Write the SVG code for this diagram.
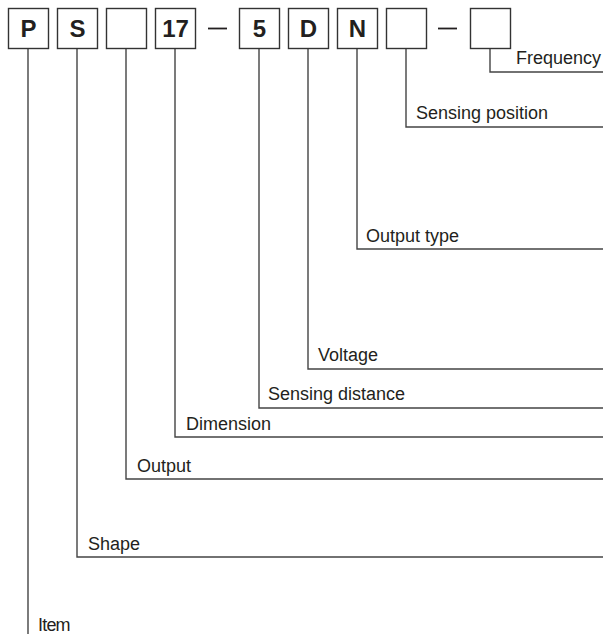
<svg xmlns="http://www.w3.org/2000/svg" width="603" height="634" viewBox="0 0 603 634">
<style>
.box{fill:#fff;stroke:#333;stroke-width:1.4}
.code{font-family:"Liberation Sans",Arial,sans-serif;font-weight:bold;font-size:24px;fill:#231f20;text-anchor:middle}
.lbl{font-family:"Liberation Sans",Arial,sans-serif;font-size:18px;fill:#231f20}
.ln{fill:none;stroke:#444;stroke-width:1.4}
</style>
<rect width="603" height="634" fill="#fff"/>
<g id="connectors">
<polyline class="ln" points="490,48.5 490,72 603,72"/>
<polyline class="ln" points="406,48.5 406,127 603,127"/>
<polyline class="ln" points="357,48.5 357,249 603,249"/>
<polyline class="ln" points="308,48.5 308,369 603,369"/>
<polyline class="ln" points="259,48.5 259,408 603,408"/>
<polyline class="ln" points="175,48.5 175,437 603,437"/>
<polyline class="ln" points="126,48.5 126,479 603,479"/>
<polyline class="ln" points="77,48.5 77,557 603,557"/>
<polyline class="ln" points="28,48.5 28,634"/>
</g>
<g id="box-P"><rect class="box" x="8.5" y="8.5" width="40" height="40"/><text class="code" x="28.5" y="37">P</text></g>
<g id="box-S"><rect class="box" x="57.5" y="8.5" width="40" height="40"/><text class="code" x="77.5" y="37">S</text></g>
<g id="box-output"><rect class="box" x="106.5" y="8.5" width="40" height="40"/></g>
<g id="box-17"><rect class="box" x="155.5" y="8.5" width="40" height="40"/><text class="code" x="175.5" y="37">17</text></g>
<g id="dash1"><line x1="208" y1="28.5" x2="227" y2="28.5" stroke="#231f20" stroke-width="1.8"/></g>
<g id="box-5"><rect class="box" x="239.5" y="8.5" width="40" height="40"/><text class="code" x="259.5" y="37">5</text></g>
<g id="box-D"><rect class="box" x="288.5" y="8.5" width="40" height="40"/><text class="code" x="308.5" y="37">D</text></g>
<g id="box-N"><rect class="box" x="337.5" y="8.5" width="40" height="40"/><text class="code" x="357.5" y="37">N</text></g>
<g id="box-position"><rect class="box" x="386.5" y="8.5" width="40" height="40"/></g>
<g id="dash2"><line x1="438" y1="28.5" x2="457" y2="28.5" stroke="#231f20" stroke-width="1.8"/></g>
<g id="box-frequency"><rect class="box" x="470.5" y="8.5" width="40" height="40"/></g>
<g id="labels">
<text class="lbl" x="516" y="64">Frequency</text>
<text class="lbl" x="416" y="119">Sensing position</text>
<text class="lbl" x="366" y="242">Output type</text>
<text class="lbl" x="318" y="361">Voltage</text>
<text class="lbl" x="268" y="400">Sensing distance</text>
<text class="lbl" x="186" y="430">Dimension</text>
<text class="lbl" x="137" y="472">Output</text>
<text class="lbl" x="88" y="550">Shape</text>
<text class="lbl" x="38" y="631" letter-spacing="-0.8">Item</text>
</g>
</svg>
